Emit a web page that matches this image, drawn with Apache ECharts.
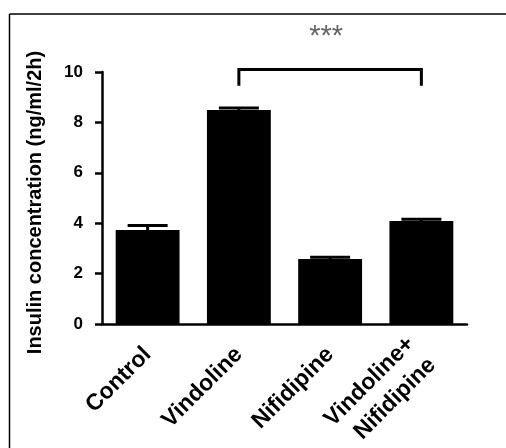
<!DOCTYPE html>
<html>
<head>
<meta charset="utf-8">
<script src="https://cdn.jsdelivr.net/npm/echarts@6/dist/echarts.min.js"></script>
<style>
html,body{margin:0;padding:0;background:#fff;}
#chart{width:506px;height:448px;}
</style>
</head>
<body>
<div id="chart"></div>
<script>
var categories = ['Control', 'Vindoline', 'Nifidipine', 'Vindoline+\nNifidipine'];
var means = [3.73, 8.49, 2.58, 4.09];
var errors = [0.18, 0.08, 0.07, 0.07];
var yTicks = [0, 2, 4, 6, 8, 10];
var bracket = [[1, 3, 10.1, 9.45]];
var sigLabel = '***';

var FONT = 'Liberation Sans, Arial, sans-serif';
var LH = 30;
var chart = echarts.init(document.getElementById('chart'));

var errData = means.map(function (m, i) { return [i, m, errors[i]]; });
var catItems = categories.map(function (c) {
  return c.indexOf('\n') >= 0 ? { value: c, textStyle: { padding: [LH, 0, 0, 0] } } : c;
});

var option = {
  animation: false,
  backgroundColor: '#fff',
  grid: { left: 102, right: 39, top: 72, bottom: 124, containLabel: false, outerBoundsMode: 'none' },
  graphic: [
    { type: 'line', shape: { x1: 9.5, y1: 14, x2: 506, y2: 14 }, style: { stroke: '#000', lineWidth: 1.5 } },
    { type: 'line', shape: { x1: 9.5, y1: 14, x2: 9.5, y2: 448 }, style: { stroke: '#000', lineWidth: 1.5 } }
  ],
  xAxis: {
    type: 'category',
    data: catItems,
    axisLine: { lineStyle: { color: '#000', width: 2.5 } },
    axisTick: { alignWithLabel: true, length: 7, lineStyle: { color: '#000', width: 2.5 } },
    axisLabel: {
      rotate: 45, margin: 27, color: '#000', fontWeight: 'bold', fontSize: 23,
      fontFamily: FONT, lineHeight: LH, interval: 0
    }
  },
  yAxis: {
    type: 'value',
    min: yTicks[0], max: yTicks[yTicks.length - 1], interval: 2,
    name: 'Insulin concentration (ng/ml/2h)',
    nameLocation: 'middle',
    nameGap: 57,
    nameTextStyle: { color: '#000', fontWeight: 'bold', fontSize: 20, fontFamily: FONT, padding: [0, 9, 0, 0] },
    axisLine: { show: true, lineStyle: { color: '#000', width: 2.5 } },
    axisTick: { show: true, length: 7, lineStyle: { color: '#000', width: 2.5 } },
    axisLabel: { margin: 19, color: '#000', fontWeight: 'bold', fontSize: 17, fontFamily: FONT },
    splitLine: { show: false }
  },
  series: [
    {
      type: 'bar',
      data: means,
      barWidth: '70%',
      itemStyle: { color: '#000' },
      z: 2
    },
    {
      type: 'custom',
      data: errData,
      z: 3,
      renderItem: function (params, api) {
        var x = api.value(0), m = api.value(1), e = api.value(2);
        var p0 = api.coord([x, m]);
        var p1 = api.coord([x, m + e]);
        var hw = 20;
        return {
          type: 'group',
          children: [
            { type: 'line', shape: { x1: p0[0], y1: p0[1], x2: p1[0], y2: p1[1] }, style: { stroke: '#000', lineWidth: 3 } },
            { type: 'line', shape: { x1: p1[0] - hw, y1: p1[1], x2: p1[0] + hw, y2: p1[1] }, style: { stroke: '#000', lineWidth: 3 } }
          ]
        };
      }
    },
    {
      type: 'custom',
      data: bracket,
      z: 4,
      clip: false,
      renderItem: function (params, api) {
        var a = api.coord([api.value(0), api.value(2)]);
        var b = api.coord([api.value(1), api.value(2)]);
        var low = api.coord([api.value(0), api.value(3)]);
        var mid = (a[0] + b[0]) / 2;
        return {
          type: 'group',
          children: [
            { type: 'polyline', shape: { points: [[a[0], low[1]], [a[0], a[1]], [b[0], b[1]], [b[0], low[1]]] }, style: { stroke: '#000', lineWidth: 3, fill: null } },
            { type: 'text', style: { text: sigLabel, x: mid - 4, y: a[1] - 32, align: 'center', verticalAlign: 'middle', fontSize: 29, fontFamily: FONT, fill: '#666' } }
          ]
        };
      }
    }
  ]
};
chart.setOption(option);
</script>
</body>
</html>
